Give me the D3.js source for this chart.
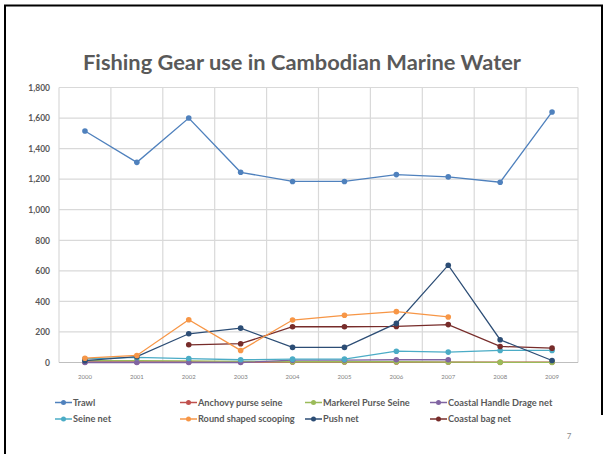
<!DOCTYPE html>
<html>
<head>
<meta charset="utf-8">
<script src="https://cdn.jsdelivr.net/npm/d3@7"></script>
<style>
  html, body { margin: 0; padding: 0; background: #fff; }
  svg { display: block; }
  text { font-family: Lato, "Open Sans", "Liberation Sans", sans-serif; }
</style>
</head>
<body>
<svg id="chart" width="606" height="454"></svg>
<script>
// Fishing gear counts per year
const years = ["2000","2001","2002","2003","2004","2005","2006","2007","2008","2009"];
const yTicks = [0, 200, 400, 600, 800, 1000, 1200, 1400, 1600, 1800];

const trawl          = [1515, 1310, 1600, 1245, 1185, 1185, 1230, 1215, 1180, 1640];
const anchovySeine   = [4, 4, 4, 3, 3, 3, 3, 3, 2, 2];
const markerelSeine  = [12, 12, 10, 8, 5, 5, 5, 3, 1, 1];
const coastalHandle  = [0, 0, 0, 0, 15, 16, 18, 18, null, null];
const seineNet       = [24, 33, 26, 18, 22, 22, 74, 68, 79, 79];
const roundScooping  = [28, 46, 280, 79, 278, 309, 333, 298, null, null];
const pushNet        = [12, 38, 188, 225, 99, 99, 256, 637, 149, 13];
const coastalBagNet  = [null, null, 116, 123, 234, 234, 236, 248, 105, 94];

const seriesNames  = ["Trawl", "Anchovy purse seine", "Markerel Purse Seine", "Coastal Handle Drage net",
                      "Seine net", "Round shaped scooping", "Push net", "Coastal bag net"];
const seriesValues = [trawl, anchovySeine, markerelSeine, coastalHandle,
                      seineNet, roundScooping, pushNet, coastalBagNet];
const seriesColors = ["#4F81BD", "#C0504D", "#9BBB59", "#8064A2",
                      "#4BACC6", "#F79646", "#2C4D75", "#772C2A"];

const svg = d3.select("#chart");

// slide frame
svg.append("path")
  .attr("d", "M5,454 V5.5 H602 V415")
  .attr("fill", "none").attr("stroke", "#000").attr("stroke-width", 2);

// title
svg.append("text")
  .attr("x", 302).attr("y", 70)
  .attr("text-anchor", "middle")
  .attr("font-size", 20).attr("font-weight", 700)
  .attr("fill", "#595959")
  .attr("textLength", 438).attr("lengthAdjust", "spacingAndGlyphs")
  .text("Fishing Gear use in Cambodian Marine Water");

const plot = { left: 59, right: 578, top: 87.5, bottom: 362.5 };

const x = d3.scaleBand().domain(years).range([plot.left, plot.right]);
const y = d3.scaleLinear().domain([0, 1800]).range([plot.bottom, plot.top]);

// horizontal gridlines
svg.append("g")
  .selectAll("line").data(yTicks.filter(t => t > 0)).join("line")
  .attr("x1", plot.left).attr("x2", plot.right)
  .attr("y1", d => y(d)).attr("y2", d => y(d))
  .attr("stroke", "#D9D9D9").attr("stroke-width", 1.2);

// vertical gridlines at category boundaries
const bounds = years.map(d => x(d)).concat([plot.right]);
svg.append("g")
  .selectAll("line").data(bounds).join("line")
  .attr("x1", d => d).attr("x2", d => d)
  .attr("y1", plot.top).attr("y2", plot.bottom)
  .attr("stroke", "#D9D9D9").attr("stroke-width", 1.2);

// baseline
svg.append("line")
  .attr("x1", plot.left).attr("x2", plot.right)
  .attr("y1", y(0)).attr("y2", y(0))
  .attr("stroke", "#BFBFBF").attr("stroke-width", 1.2);

// y axis labels
const yAxis = d3.axisLeft(y).tickValues(yTicks).tickFormat(d3.format(",")).tickSize(0).tickPadding(9);
const gy = svg.append("g").attr("transform", `translate(${plot.left},0)`).call(yAxis);
gy.select(".domain").remove();
gy.selectAll("text")
  .attr("font-size", 8.5).attr("font-weight", 700).attr("fill", "#595959")
  .style("font-family", "Lato, 'Open Sans', sans-serif");

// x axis labels
const xAxis = d3.axisBottom(x).tickSize(0).tickPadding(12);
const gx = svg.append("g").attr("transform", `translate(0,${plot.bottom})`).call(xAxis);
gx.select(".domain").remove();
gx.selectAll("text")
  .attr("font-size", 6).attr("fill", "#7F7F7F")
  .style("font-family", "Lato, 'Open Sans', sans-serif");

// series lines and markers
const line = d3.line()
  .defined(d => d.v !== null)
  .x(d => x(d.year) + x.bandwidth() / 2)
  .y(d => y(d.v));

const drawOrder = [1, 2, 3, 4, 7, 6, 5, 0];
drawOrder.forEach(i => {
  const pts = years.map((yr, j) => ({ year: yr, v: seriesValues[i][j] }));
  const g = svg.append("g");
  g.append("path")
    .datum(pts)
    .attr("d", line)
    .attr("fill", "none")
    .attr("stroke", seriesColors[i])
    .attr("stroke-width", 1.3);
  g.selectAll("circle").data(pts.filter(d => d.v !== null)).join("circle")
    .attr("cx", d => x(d.year) + x.bandwidth() / 2)
    .attr("cy", d => y(d.v))
    .attr("r", 2.8)
    .attr("fill", seriesColors[i]);
});

// legend
const legendCols = [55, 180, 305, 430];
const legendRows = [402.5, 419];
seriesNames.forEach((name, i) => {
  const lx = legendCols[i % 4];
  const ly = legendRows[Math.floor(i / 4)];
  const g = svg.append("g");
  g.append("line")
    .attr("x1", lx).attr("x2", lx + 17)
    .attr("y1", ly).attr("y2", ly)
    .attr("stroke", seriesColors[i]).attr("stroke-width", 1.5);
  g.append("circle")
    .attr("cx", lx + 8.5).attr("cy", ly).attr("r", 2.5)
    .attr("fill", seriesColors[i]);
  g.append("text")
    .attr("x", lx + 18).attr("y", ly + 3.2)
    .attr("font-size", 9.2).attr("font-weight", 700)
    .attr("fill", "#595959")
    .text(name);
});

// page number
svg.append("text")
  .attr("x", 569).attr("y", 439)
  .attr("text-anchor", "middle")
  .attr("font-size", 8).attr("fill", "#8C8C8C")
  .text("7");
</script>
</body>
</html>
